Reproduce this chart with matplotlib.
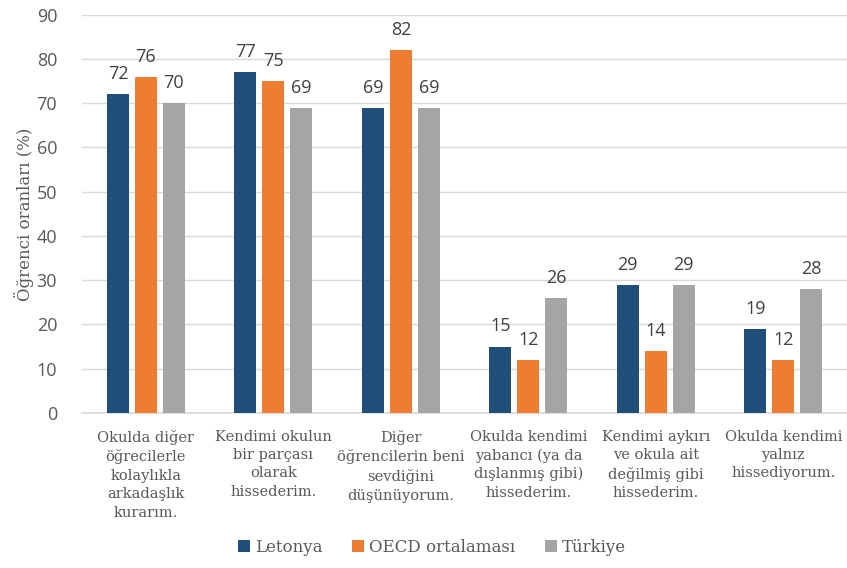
import matplotlib
matplotlib.use("Agg")
import matplotlib.pyplot as plt
import numpy as np

categories = [
    "Okulda diğer\nöğrecilerle\nkolaylıkla\narkadaşlık\nkurarım.",
    "Kendimi okulun\nbir parçası\nolarak\nhissederim.",
    "Diğer\nöğrencilerin beni\nsevdiğini\ndüşünüyorum.",
    "Okulda kendimi\nyabancı (ya da\ndışlanmış gibi)\nhissederim.",
    "Kendimi aykırı\nve okula ait\ndeğilmiş gibi\nhissederim.",
    "Okulda kendimi\nyalnız\nhissediyorum.",
]
series_names = ["Letonya", "OECD ortalaması", "Türkiye"]
letonya = [72, 77, 69, 15, 29, 19]
oecd = [76, 75, 82, 12, 14, 12]
turkiye = [70, 69, 69, 26, 29, 28]
colors = ["#1F4E79", "#ED7D31", "#A5A5A5"]
yticks = [0, 10, 20, 30, 40, 50, 60, 70, 80, 90]

serif = "DejaVu Serif"
sans = "Open Sans"
txt = "#595959"

fig = plt.figure(figsize=(8.47, 5.68), dpi=100)
ax = fig.add_axes([0.097, 0.273, 0.903, 0.701])

x = np.arange(len(categories))
w = 0.172
step = 0.219
for i, (vals, c, name) in enumerate(zip([letonya, oecd, turkiye], colors, series_names)):
    pos = x + (i - 1) * step
    ax.bar(pos, vals, width=w, color=c, label=name, zorder=3)
    for p, v in zip(pos, vals):
        ax.annotate(str(v), (p, v), xytext=(0, 8), textcoords="offset points",
                    ha="center", va="bottom", fontsize=13, color="#404040",
                    family=sans)

ax.set_xlim(-0.5, len(categories) - 0.5)
ax.set_ylim(0, 90)
ax.set_yticks(yticks)
ax.set_yticklabels([str(t) for t in yticks], family=sans, fontsize=13, color=txt)
ax.yaxis.grid(True, color="#D9D9D9", linewidth=1, zorder=0)
ax.set_axisbelow(True)
for s in ["top", "right", "left"]:
    ax.spines[s].set_visible(False)
ax.spines["bottom"].set_color("#D9D9D9")
ax.spines["bottom"].set_linewidth(1.2)
ax.tick_params(axis="y", length=0, pad=18)
ax.tick_params(axis="x", length=0, pad=12)
ax.set_xticks(x)
ax.set_xticklabels(categories, family=serif, fontsize=10.5, color=txt, linespacing=1.4)
ax.set_ylabel("Öğrenci oranları (%)", family=serif, fontsize=12, color=txt, labelpad=2)

leg = fig.legend(loc="lower center", bbox_to_anchor=(0.51, -0.005), ncol=3, frameon=False,
                 prop={"family": serif, "size": 12}, handlelength=0.7, handleheight=0.7,
                 columnspacing=1.8, handletextpad=0.3)
for t in leg.get_texts():
    t.set_color(txt)

fig.savefig("out.png", dpi=100)
